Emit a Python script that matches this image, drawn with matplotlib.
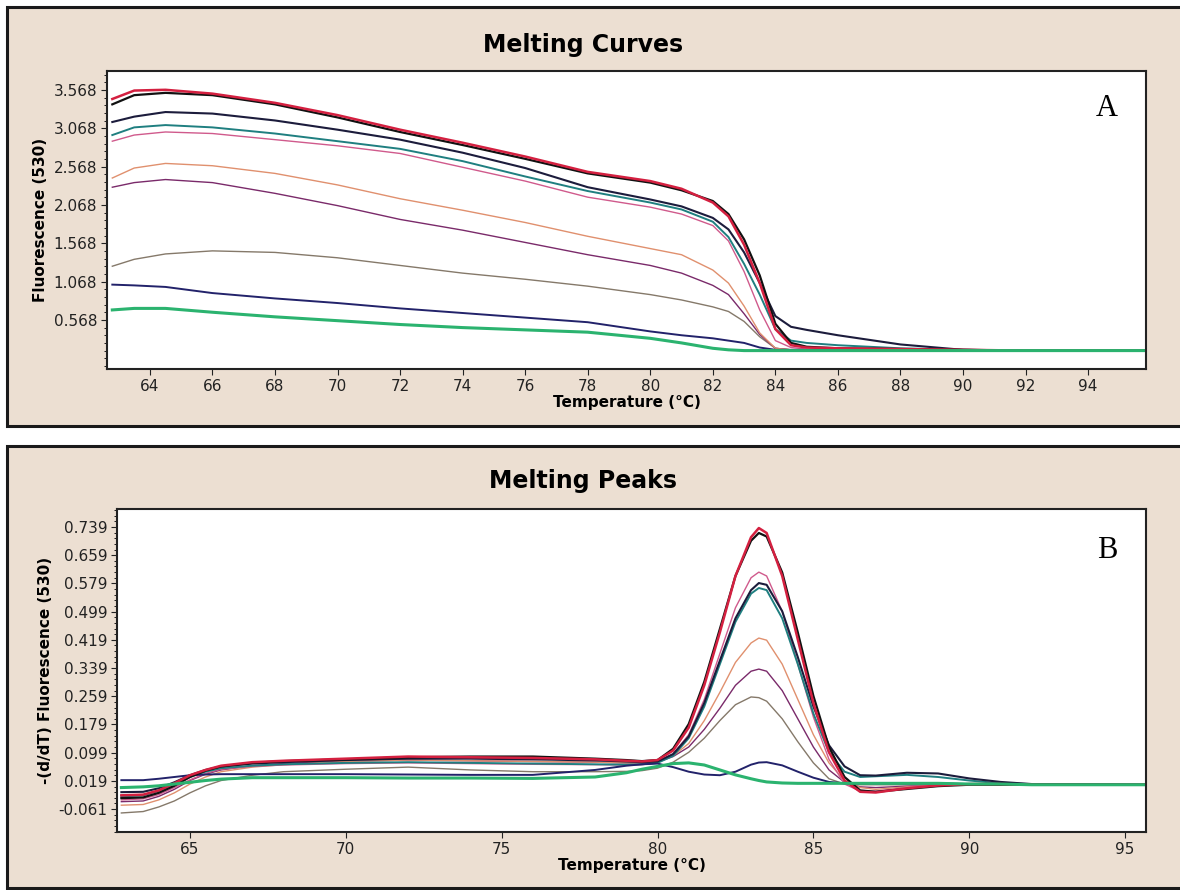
# plot.py
# --------
# Melting curves (A) and melting peaks (B) of a LightCycler run,
# redrawn from the exported screenshot.

import matplotlib
matplotlib.use("Agg")
import matplotlib.pyplot as plt
from matplotlib.patches import Rectangle
from matplotlib.ticker import AutoMinorLocator

# ---------------------------------------------------------------
# Panel A - fluorescence (530) vs temperature
# ---------------------------------------------------------------
temp_a = [62.8, 63.5, 64.5, 66, 68, 70, 72, 74, 76, 78, 80, 81, 82,
          82.5, 83, 83.5, 84, 84.5, 85, 86, 88, 90, 92, 94, 95.8]

curve_red = [3.45, 3.56, 3.57, 3.52, 3.40, 3.24, 3.05, 2.88, 2.70, 2.50, 2.38, 2.28, 2.10,
             1.92, 1.55, 1.05, 0.45, 0.24, 0.21, 0.20, 0.19, 0.18, 0.17, 0.17, 0.17]
curve_black = [3.38, 3.50, 3.53, 3.50, 3.38, 3.21, 3.02, 2.85, 2.67, 2.48, 2.36, 2.26, 2.12,
               1.95, 1.62, 1.15, 0.52, 0.27, 0.22, 0.20, 0.19, 0.18, 0.17, 0.17, 0.17]
curve_navyblack = [3.15, 3.22, 3.28, 3.26, 3.17, 3.05, 2.92, 2.75, 2.55, 2.30, 2.14, 2.05, 1.90,
                   1.75, 1.45, 1.05, 0.62, 0.48, 0.44, 0.37, 0.25, 0.18, 0.17, 0.17, 0.17]
curve_teal = [2.98, 3.08, 3.11, 3.08, 3.00, 2.90, 2.80, 2.64, 2.44, 2.25, 2.10, 2.01, 1.85,
              1.65, 1.30, 0.90, 0.45, 0.30, 0.27, 0.24, 0.20, 0.18, 0.17, 0.17, 0.17]
curve_pink = [2.90, 2.98, 3.02, 3.00, 2.92, 2.84, 2.74, 2.56, 2.38, 2.17, 2.04, 1.95, 1.80,
              1.60, 1.20, 0.70, 0.30, 0.21, 0.19, 0.18, 0.18, 0.17, 0.17, 0.17, 0.17]
curve_orange = [2.42, 2.55, 2.61, 2.58, 2.48, 2.33, 2.15, 2.00, 1.84, 1.66, 1.50, 1.42, 1.22,
                1.05, 0.75, 0.40, 0.20, 0.18, 0.18, 0.18, 0.17, 0.17, 0.17, 0.17, 0.17]
curve_purple = [2.30, 2.36, 2.40, 2.36, 2.22, 2.06, 1.88, 1.74, 1.58, 1.42, 1.28, 1.18, 1.02,
                0.90, 0.65, 0.38, 0.20, 0.18, 0.18, 0.18, 0.17, 0.17, 0.17, 0.17, 0.17]
curve_gray = [1.27, 1.36, 1.43, 1.47, 1.45, 1.38, 1.28, 1.18, 1.10, 1.01, 0.90, 0.83, 0.74,
              0.68, 0.55, 0.35, 0.20, 0.18, 0.18, 0.18, 0.17, 0.17, 0.17, 0.17, 0.17]
curve_navy = [1.03, 1.02, 1.00, 0.92, 0.85, 0.79, 0.72, 0.66, 0.60, 0.54, 0.42, 0.37, 0.33,
              0.30, 0.27, 0.21, 0.18, 0.18, 0.18, 0.18, 0.17, 0.17, 0.17, 0.17, 0.17]
curve_green = [0.70, 0.72, 0.72, 0.67, 0.61, 0.56, 0.51, 0.47, 0.44, 0.41, 0.33, 0.27, 0.20,
               0.18, 0.17, 0.17, 0.17, 0.17, 0.17, 0.17, 0.17, 0.17, 0.17, 0.17, 0.17]

yticks_a = [0.568, 1.068, 1.568, 2.068, 2.568, 3.068, 3.568]
ytick_labels_a = ["0.568", "1.068", "1.568", "2.068", "2.568", "3.068", "3.568"]
xticks_a = [64, 66, 68, 70, 72, 74, 76, 78, 80, 82, 84, 86, 88, 90, 92, 94]

# ---------------------------------------------------------------
# Panel B - -(d/dT) fluorescence (530) vs temperature
# ---------------------------------------------------------------
temp_b = [62.8, 63.5, 64, 64.5, 65, 65.5, 66, 67, 68, 70, 72, 74, 76, 78, 79, 79.5,
          80, 80.5, 81, 81.5, 82, 82.5, 83, 83.25, 83.5, 84, 84.5, 85, 85.5, 86,
          86.5, 87, 88, 89, 90, 91, 92, 95.7]

peak_red = [-0.022, -0.020, -0.008, 0.012, 0.035, 0.050, 0.062, 0.072, 0.076, 0.082, 0.088,
            0.086, 0.084, 0.080, 0.076, 0.074, 0.078, 0.105, 0.170, 0.290, 0.440, 0.600,
            0.710, 0.736, 0.722, 0.600, 0.420, 0.240, 0.100, 0.020, -0.012, -0.014,
            -0.002, 0.006, 0.010, 0.010, 0.008, 0.008]
peak_black = [-0.030, -0.028, -0.015, 0.005, 0.030, 0.048, 0.060, 0.070, 0.075, 0.080, 0.086,
              0.088, 0.088, 0.082, 0.078, 0.075, 0.078, 0.110, 0.180, 0.300, 0.450, 0.600,
              0.700, 0.722, 0.712, 0.610, 0.440, 0.260, 0.115, 0.030, -0.008, -0.012,
              -0.004, 0.004, 0.008, 0.008, 0.008, 0.008]
peak_navyblack = [-0.013, -0.012, -0.002, 0.015, 0.035, 0.050, 0.060, 0.068, 0.072, 0.078,
                  0.082, 0.082, 0.080, 0.077, 0.074, 0.072, 0.074, 0.095, 0.145, 0.240,
                  0.360, 0.480, 0.560, 0.580, 0.575, 0.500, 0.370, 0.230, 0.120, 0.060,
                  0.035, 0.034, 0.042, 0.040, 0.026, 0.016, 0.010, 0.008]
peak_teal = [-0.025, -0.022, -0.010, 0.008, 0.030, 0.045, 0.055, 0.062, 0.066, 0.070, 0.072,
             0.070, 0.068, 0.066, 0.065, 0.066, 0.070, 0.090, 0.140, 0.230, 0.350, 0.470,
             0.550, 0.566, 0.560, 0.480, 0.350, 0.210, 0.100, 0.045, 0.030, 0.032,
             0.036, 0.030, 0.020, 0.012, 0.010, 0.008]
peak_pink = [-0.035, -0.032, -0.020, 0.000, 0.022, 0.040, 0.052, 0.060, 0.064, 0.068, 0.070,
             0.068, 0.066, 0.065, 0.064, 0.065, 0.070, 0.095, 0.150, 0.250, 0.380, 0.510,
             0.595, 0.611, 0.600, 0.500, 0.350, 0.200, 0.080, 0.010, -0.010, -0.010,
             0.000, 0.006, 0.008, 0.008, 0.008, 0.008]
peak_orange = [-0.050, -0.048, -0.035, -0.015, 0.010, 0.030, 0.045, 0.058, 0.065, 0.074,
               0.078, 0.076, 0.074, 0.072, 0.070, 0.070, 0.072, 0.090, 0.125, 0.190, 0.270,
               0.355, 0.410, 0.424, 0.418, 0.350, 0.250, 0.150, 0.070, 0.020, 0.000,
               -0.005, 0.002, 0.006, 0.008, 0.008, 0.008, 0.008]
peak_purple = [-0.040, -0.038, -0.025, -0.005, 0.020, 0.038, 0.050, 0.062, 0.068, 0.075,
               0.078, 0.076, 0.074, 0.072, 0.070, 0.070, 0.072, 0.088, 0.115, 0.165, 0.225,
               0.290, 0.330, 0.336, 0.330, 0.275, 0.195, 0.115, 0.050, 0.015, 0.002,
               0.000, 0.004, 0.006, 0.008, 0.008, 0.008, 0.008]
peak_gray = [-0.072, -0.068, -0.055, -0.038, -0.015, 0.005, 0.020, 0.035, 0.045, 0.052,
             0.058, 0.050, 0.045, 0.045, 0.046, 0.048, 0.055, 0.072, 0.100, 0.140, 0.190,
             0.235, 0.257, 0.255, 0.245, 0.195, 0.130, 0.070, 0.025, 0.010, 0.008,
             0.008, 0.008, 0.008, 0.008, 0.008, 0.008, 0.008]
peak_navy = [0.021, 0.021, 0.025, 0.030, 0.035, 0.037, 0.038, 0.038, 0.038, 0.038, 0.037,
             0.036, 0.036, 0.050, 0.062, 0.066, 0.068, 0.058, 0.045, 0.037, 0.035, 0.045,
             0.065, 0.071, 0.072, 0.063, 0.045, 0.028, 0.016, 0.012, 0.012, 0.012,
             0.012, 0.012, 0.010, 0.010, 0.008, 0.008]
peak_green = [0.000, 0.002, 0.005, 0.010, 0.015, 0.020, 0.024, 0.028, 0.028, 0.028, 0.027,
              0.027, 0.026, 0.030, 0.042, 0.052, 0.060, 0.068, 0.070, 0.064, 0.050, 0.036,
              0.025, 0.020, 0.016, 0.013, 0.012, 0.012, 0.012, 0.012, 0.012, 0.012,
              0.012, 0.012, 0.010, 0.010, 0.008, 0.008]

yticks_b = [-0.061, 0.019, 0.099, 0.179, 0.259, 0.339, 0.419, 0.499, 0.579, 0.659, 0.739]
ytick_labels_b = ["-0.061", "0.019", "0.099", "0.179", "0.259", "0.339",
                  "0.419", "0.499", "0.579", "0.659", "0.739"]
xticks_b = [65, 70, 75, 80, 85, 90, 95]

# sample colours / widths (same order in both panels)
colors = ["#85796a", "#7a2a6a", "#e0906e", "#d05a8c", "#1f7f80",
          "#22226a", "#1c1c3c", "#111111", "#d42040", "#2bb36f"]
widths = [1.0, 1.0, 1.0, 1.0, 1.4, 1.4, 1.5, 1.6, 1.8, 2.2]
curves_a = [curve_gray, curve_purple, curve_orange, curve_pink, curve_teal,
            curve_navy, curve_navyblack, curve_black, curve_red, curve_green]
curves_b = [peak_gray, peak_purple, peak_orange, peak_pink, peak_teal,
            peak_navy, peak_navyblack, peak_black, peak_red, peak_green]

BEIGE = "#ecdfd2"

fig = plt.figure(figsize=(11.8, 8.9), dpi=100, facecolor="white")

# beige panel frames (behind the axes)
W, H = 1180, 890
fig.patches.append(Rectangle((7 / W, 1 - 426 / H), 1.0, (426 - 7) / H,
                             transform=fig.transFigure, facecolor=BEIGE,
                             edgecolor="#1a1a1a", linewidth=2.2, zorder=-5))
fig.patches.append(Rectangle((7 / W, 1 - 888 / H), 1.0, (888 - 446) / H,
                             transform=fig.transFigure, facecolor=BEIGE,
                             edgecolor="#1a1a1a", linewidth=2.2, zorder=-5))

ax_a = fig.add_axes([107 / W, 1 - 369 / H, (1146 - 107) / W, (369 - 71) / H])
ax_b = fig.add_axes([117 / W, 1 - 832 / H, (1146 - 117) / W, (832 - 509) / H])
ax_a.set_zorder(2)
ax_b.set_zorder(2)


def style_axes(ax):
    ax.set_facecolor("white")
    for s in ax.spines.values():
        s.set_color("#222222")
        s.set_linewidth(1.5)
    ax.tick_params(axis="both", direction="out", length=4, width=0.8,
                   labelsize=11, colors="#222222", pad=3)
    ax.tick_params(axis="y", which="minor", direction="out", length=2, width=0.6)
    ax.yaxis.set_minor_locator(AutoMinorLocator(5))


# 1. Melting curves
for y, c, lw in zip(curves_a, colors, widths):
    ax_a.plot(temp_a, y, color=c, lw=lw)
ax_a.set_xlim(62.63, 95.85)
ax_a.set_ylim(-0.07, 3.815)
ax_a.set_yticks(yticks_a)
ax_a.set_yticklabels(ytick_labels_a)
ax_a.set_xticks(xticks_a)
style_axes(ax_a)
ax_a.set_xlabel("Temperature (°C)", fontsize=11, fontweight="bold", labelpad=1)
ax_a.set_ylabel("Fluorescence (530)", fontsize=11, fontweight="bold", labelpad=4)
ax_a.text(0.962, 0.875, "A", transform=ax_a.transAxes, fontsize=22,
          family="Liberation Serif", ha="center", va="center")
fig.text(583 / W, 1 - 45 / H, "Melting Curves", fontsize=17, fontweight="bold",
         ha="center", va="center")

# 2. Melting peaks
for y, c, lw in zip(curves_b, colors, widths):
    ax_b.plot(temp_b, y, color=c, lw=lw)
ax_b.set_xlim(62.66, 95.67)
ax_b.set_ylim(-0.126, 0.79)
ax_b.set_yticks(yticks_b)
ax_b.set_yticklabels(ytick_labels_b)
ax_b.set_xticks(xticks_b)
style_axes(ax_b)
ax_b.set_xlabel("Temperature (°C)", fontsize=11, fontweight="bold", labelpad=1)
ax_b.set_ylabel("-(d/dT) Fluorescence (530)", fontsize=11, fontweight="bold", labelpad=4)
ax_b.text(0.962, 0.87, "B", transform=ax_b.transAxes, fontsize=22,
          family="Liberation Serif", ha="center", va="center")
fig.text(583 / W, 1 - 481 / H, "Melting Peaks", fontsize=17, fontweight="bold",
         ha="center", va="center")

fig.savefig("out.png", dpi=100, facecolor=fig.get_facecolor())
